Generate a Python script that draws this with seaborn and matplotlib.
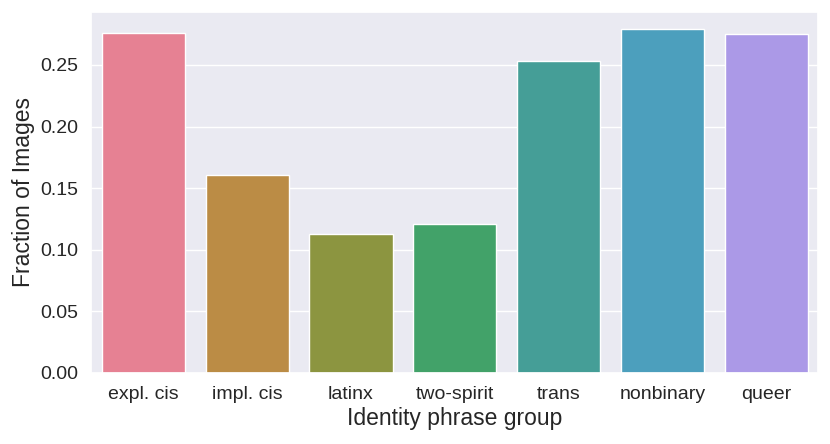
import pandas as pd
import seaborn as sns
import matplotlib.pyplot as plt

# values
groups = ['expl. cis', 'impl. cis', 'latinx', 'two-spirit', 'trans', 'nonbinary', 'queer']
fractions = [0.276, 0.161, 0.113, 0.121, 0.253, 0.279, 0.275]

df = pd.DataFrame({'Identity phrase group': groups, 'Fraction of Images': fractions})

sns.set_theme(style='darkgrid')
plt.rcParams['font.family'] = ['Liberation Sans', 'DejaVu Sans']

# husl palette of 8 hues, first 7 used
colors = sns.color_palette('husl', 8)[:7]

fig, ax = plt.subplots(figsize=(8.3, 4.44), dpi=100)
sns.barplot(data=df, x='Identity phrase group', y='Fraction of Images',
            hue='Identity phrase group', palette=colors, legend=False, ax=ax)
ax.tick_params(axis='both', labelsize=14)
ax.set_xlabel('Identity phrase group', fontsize=16.5, labelpad=3)
ax.set_ylabel('Fraction of Images', fontsize=16.5, labelpad=4)
ax.set_yticks([0.0, 0.05, 0.10, 0.15, 0.20, 0.25])
ax.set_yticklabels(['0.00', '0.05', '0.10', '0.15', '0.20', '0.25'])

fig.subplots_adjust(left=0.11, right=0.986, top=0.973, bottom=0.16)
fig.savefig('out.png', dpi=100)
